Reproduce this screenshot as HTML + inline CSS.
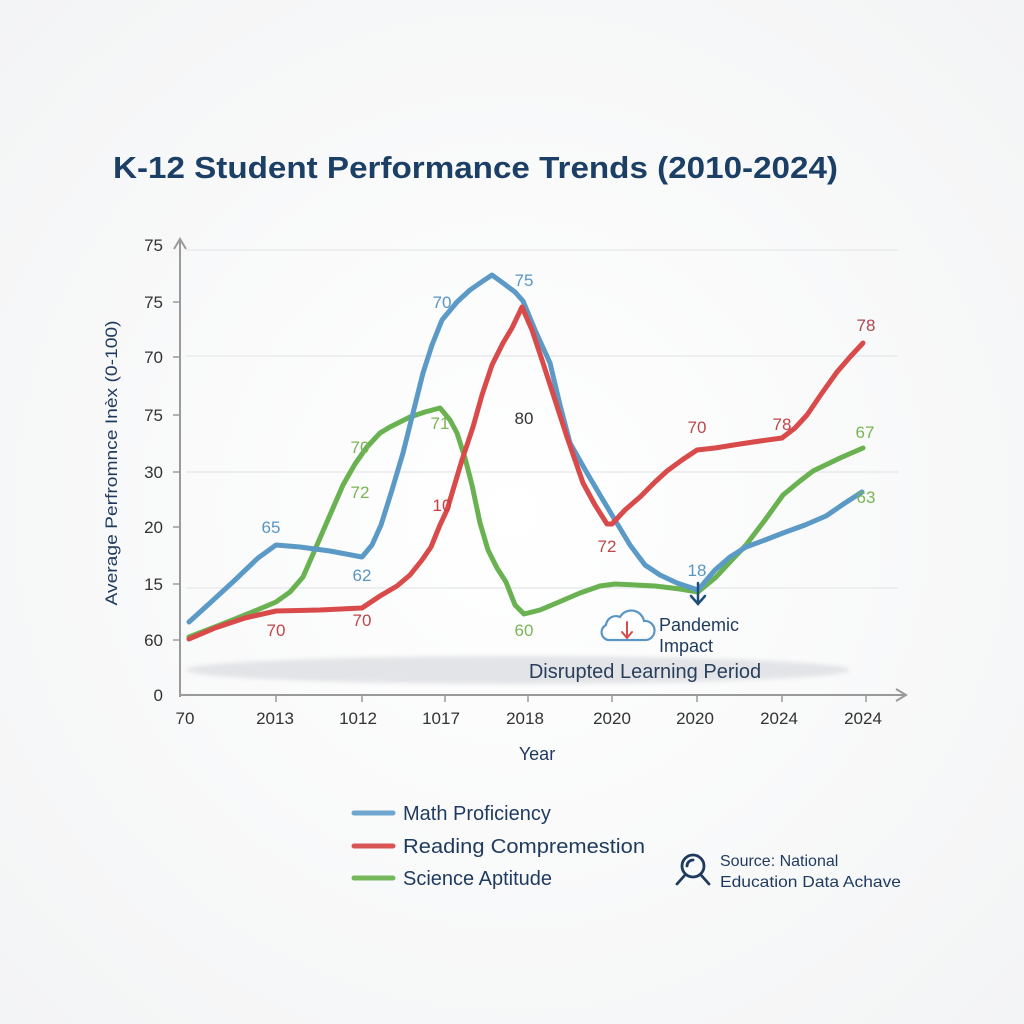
<!DOCTYPE html>
<html><head><meta charset="utf-8"><style>
html,body{margin:0;padding:0;background:#fcfcfc;}
svg{display:block;}
text{font-family:"Liberation Sans",sans-serif;}
</style></head><body>
<svg width="1024" height="1024" viewBox="0 0 1024 1024" xmlns="http://www.w3.org/2000/svg">
<defs>
<radialGradient id="bg" cx="50%" cy="50%" r="70%">
<stop offset="0" stop-color="#ffffff"/><stop offset="1" stop-color="#f3f4f5"/>
</radialGradient>
<filter id="blur" x="-10%" y="-50%" width="120%" height="200%"><feGaussianBlur stdDeviation="2"/></filter>
</defs>
<rect width="1024" height="1024" fill="url(#bg)"/>

<text x="113" y="178" font-size="31" font-weight="bold" fill="#1c3f66" textLength="725" lengthAdjust="spacingAndGlyphs">K-12 Student Performance Trends (2010-2024)</text>

<!-- gridlines -->
<g stroke="#e9eaec" stroke-width="1.5">
<line x1="186" y1="250" x2="898" y2="250"/>
<line x1="186" y1="356" x2="898" y2="356"/>
<line x1="186" y1="472" x2="898" y2="472"/>
<line x1="186" y1="588" x2="898" y2="588"/>
</g>

<!-- disrupted ellipse -->
<ellipse cx="518" cy="670" rx="332" ry="14" fill="#e3e4e7" filter="url(#blur)"/>
<text x="645" y="678" font-size="20" fill="#2a3f5c" text-anchor="middle">Disrupted Learning Period</text>

<!-- axes -->
<g stroke="#9a9a9a" stroke-width="2" fill="none">
<line x1="180" y1="240" x2="180" y2="697"/>
<polyline points="174,249 180,239 186,249"/>
<line x1="180" y1="695" x2="905" y2="695"/>
<polyline points="896,689 906,695 896,701"/>
</g>
<g stroke="#9a9a9a" stroke-width="1.5">
<line x1="173" y1="302" x2="180" y2="302"/>
<line x1="173" y1="357" x2="180" y2="357"/>
<line x1="173" y1="415" x2="180" y2="415"/>
<line x1="173" y1="472" x2="180" y2="472"/>
<line x1="173" y1="527" x2="180" y2="527"/>
<line x1="173" y1="584" x2="180" y2="584"/>
<line x1="173" y1="640" x2="180" y2="640"/>
<line x1="276" y1="695" x2="276" y2="702"/>
<line x1="362" y1="695" x2="362" y2="702"/>
<line x1="445" y1="695" x2="445" y2="702"/>
<line x1="528" y1="695" x2="528" y2="702"/>
<line x1="612" y1="695" x2="612" y2="702"/>
<line x1="697" y1="695" x2="697" y2="702"/>
<line x1="782" y1="695" x2="782" y2="702"/>
<line x1="866" y1="695" x2="866" y2="702"/>
</g>

<!-- y tick labels -->
<g font-size="17" fill="#333" text-anchor="end">
<text x="163" y="251">75</text>
<text x="163" y="308">75</text>
<text x="163" y="363">70</text>
<text x="163" y="421">75</text>
<text x="163" y="478">30</text>
<text x="163" y="533">20</text>
<text x="163" y="590">15</text>
<text x="163" y="646">60</text>
<text x="163" y="701">0</text>
</g>
<!-- x tick labels -->
<g font-size="17" fill="#333" text-anchor="middle">
<text x="185" y="724">70</text>
<text x="275" y="724">2013</text>
<text x="358" y="724">1012</text>
<text x="441" y="724">1017</text>
<text x="525" y="724">2018</text>
<text x="612" y="724">2020</text>
<text x="695" y="724">2020</text>
<text x="779" y="724">2024</text>
<text x="863" y="724">2024</text>
</g>
<text x="537" y="760" font-size="18" fill="#1f3a5f" text-anchor="middle">Year</text>
<text transform="translate(117,463) rotate(-90)" font-size="17" fill="#1f3a5f" text-anchor="middle" textLength="285" lengthAdjust="spacingAndGlyphs">Average Perfromnce Inèx (0-100)</text>

<!-- series -->
<g fill="none" stroke-width="5" stroke-linejoin="round" stroke-linecap="round">
<polyline stroke="#6ab251" points="189,637 220,625 250,613 276,602 290,592 303,577 317,545 330,515 343,485 355,464 367,447 380,433 390,427 410,417 425,412 440,408 450,420 457,433 465,458 472,485 480,523 488,550 497,568 506,582 515,605 524,614 540,610 559,602 580,593 600,586 615,584 655,586 680,589 698,592 715,578 730,562 746,545 765,520 783,495 800,481 813,471 840,458 863,448"/>
<polyline stroke="#5b9ac7" points="189,622 210,603 235,580 258,558 276,545 300,547 330,551 362,557 372,545 381,525 392,490 403,453 413,413 423,373 432,345 442,320 457,302 470,290 483,281 492,275 503,283 515,292 523,301 535,330 550,363 560,405 570,443 587,473 600,495 615,520 630,545 645,565 660,575 677,583 698,590 715,570 730,557 746,547 765,540 783,533 805,525 826,516 845,503 862,492"/>
<polyline stroke="#d94a4a" points="189,639 215,628 245,618 276,611 320,610 362,608 380,596 397,586 410,575 422,560 431,547 440,525 447,510 453,490 462,460 473,427 482,395 492,365 503,343 512,328 522,307 532,330 543,363 555,400 567,437 583,483 595,505 607,524 612,524 625,510 640,497 655,482 667,471 682,460 697,450 715,448 740,444 760,441 782,438 795,428 807,415 822,393 837,372 850,357 863,343"/>
</g>

<!-- data labels -->
<g font-size="17" text-anchor="middle">
<text x="271" y="533" fill="#5a96c4">65</text>
<text x="362" y="581" fill="#5a96c4">62</text>
<text x="442" y="308" fill="#5a96c4">70</text>
<text x="524" y="286" fill="#5a96c4">75</text>
<text x="697" y="576" fill="#5a96c4">18</text>
<text x="276" y="636" fill="#c0464a">70</text>
<text x="362" y="626" fill="#c0464a">70</text>
<text x="442" y="511" fill="#d0393d">10</text>
<text x="524" y="424" fill="#333">80</text>
<text x="607" y="552" fill="#c0464a">72</text>
<text x="697" y="433" fill="#c0464a">70</text>
<text x="782" y="430" fill="#c0464a">78</text>
<text x="866" y="331" fill="#b0464d">78</text>
<text x="360" y="453" fill="#79b555">70</text>
<text x="360" y="498" fill="#79b555">72</text>
<text x="440" y="429" fill="#79b555">71</text>
<text x="524" y="636" fill="#79b555">60</text>
<text x="865" y="438" fill="#79b555">67</text>
<text x="866" y="503" fill="#79b555">63</text>
</g>

<!-- pandemic arrow -->
<g stroke="#1f4e7a" stroke-width="2.5" fill="none" stroke-linecap="round">
<line x1="698" y1="583" x2="698" y2="603"/>
<polyline points="691,596 698,604 705,596"/>
</g>
<!-- cloud -->
<path d="M608,640 a8,8 0 0 1 -2,-15 a10,10 0 0 1 14,-8 a13,13 0 0 1 24,4 a9,9 0 0 1 2,19 z" fill="#fff" stroke="#5a96c4" stroke-width="2.2"/>
<g stroke="#d94a4a" stroke-width="2" fill="none" stroke-linecap="round">
<line x1="627" y1="622" x2="627" y2="637"/>
<polyline points="622,632 627,638 632,632"/>
</g>
<text x="659" y="631" font-size="18" fill="#1f3a5f">Pandemic</text>
<text x="659" y="652" font-size="18" fill="#1f3a5f">Impact</text>

<!-- legend -->
<g stroke-width="5" stroke-linecap="round">
<line x1="354" y1="813" x2="393" y2="813" stroke="#6fa6cf"/>
<line x1="354" y1="846" x2="393" y2="846" stroke="#d95555"/>
<line x1="354" y1="878" x2="393" y2="878" stroke="#74b85c"/>
</g>
<g font-size="20" fill="#1f3a5f">
<text x="403" y="820">Math Proficiency</text>
<text x="403" y="853" textLength="242" lengthAdjust="spacingAndGlyphs">Reading Compremestion</text>
<text x="403" y="885">Science Aptitude</text>
</g>

<!-- source -->
<g stroke="#1f3a5f" stroke-width="2.8" fill="none" stroke-linecap="round">
<circle cx="693" cy="866" r="11"/>
<path d="M687,866 a6,6 0 0 1 6,-6"/>
<line x1="685" y1="875" x2="677" y2="884"/>
<line x1="701" y1="875" x2="709" y2="884"/>
</g>
<text x="720" y="866" font-size="16" fill="#1f3a5f">Source: National</text>
<text x="720" y="887" font-size="16" fill="#1f3a5f" textLength="181" lengthAdjust="spacingAndGlyphs">Education Data Achave</text>
</svg>
</body></html>
